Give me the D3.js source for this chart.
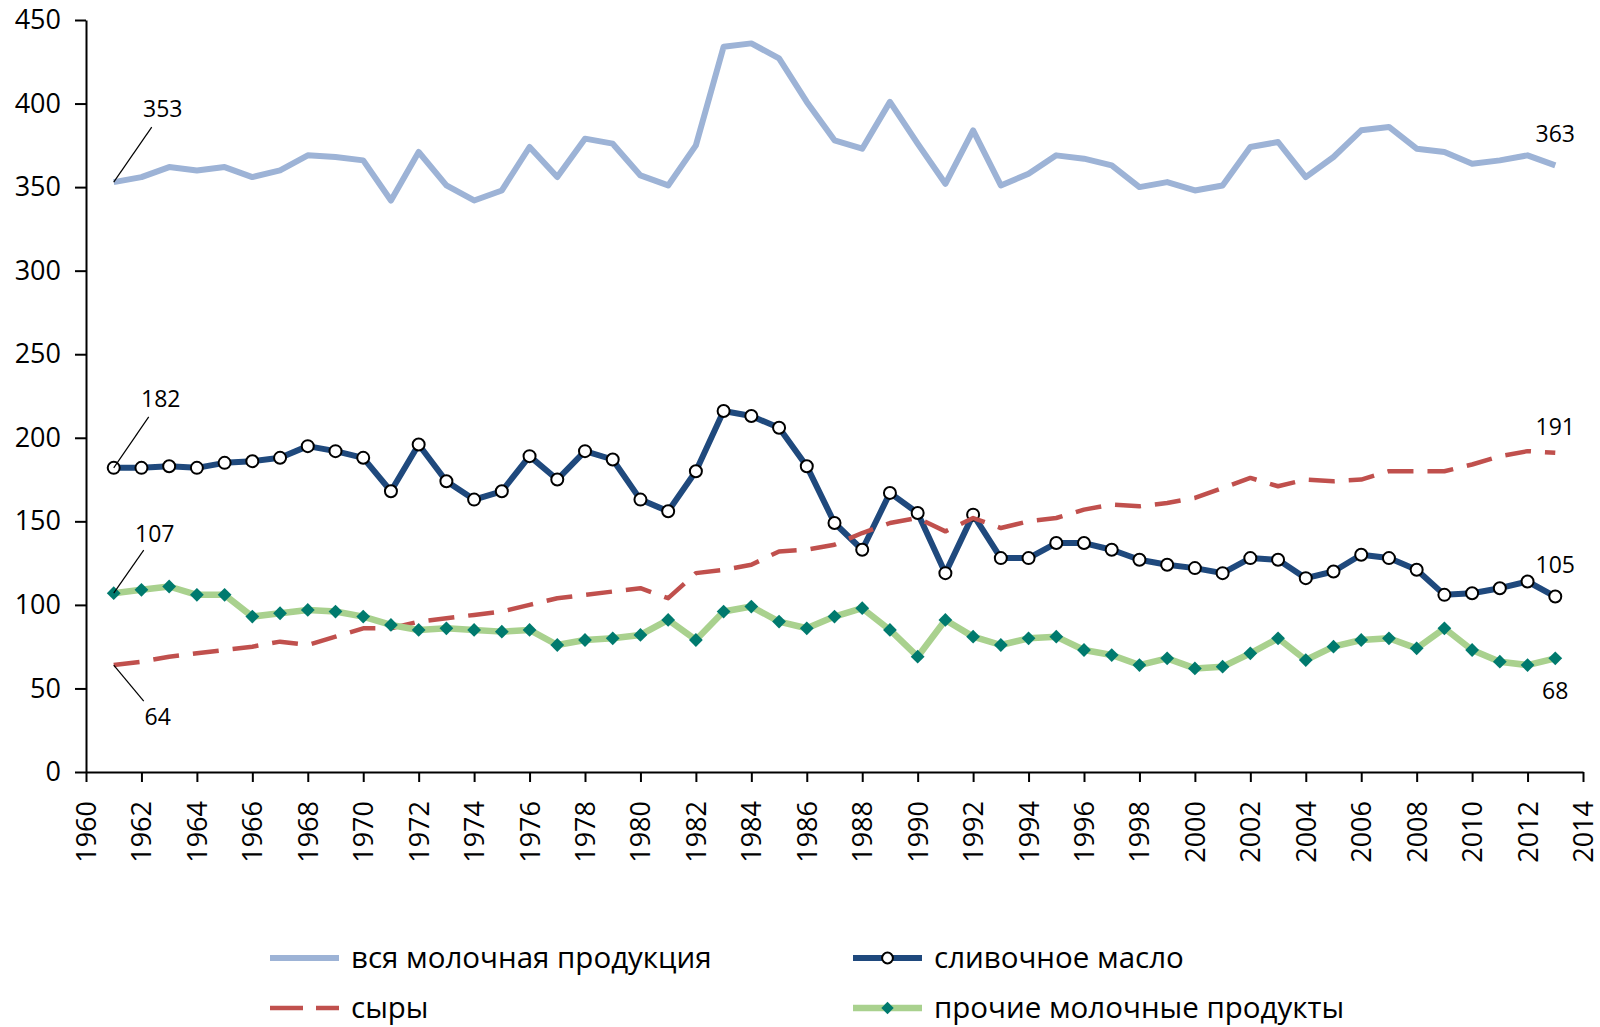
<!DOCTYPE html>
<html>
<head>
<meta charset="utf-8">
<script src="https://cdn.jsdelivr.net/npm/d3@7"></script>
<style>
  body { margin: 0; background: #fff; }
  text { font-family: "Open Sans", sans-serif; fill: #000; }
</style>
</head>
<body>
<svg></svg>
<script>
var years = d3.range(1961, 2014);

var allDairy = [353, 356, 362, 360, 362, 356, 360, 369, 368, 366,
                342, 371, 351, 342, 348, 374, 356, 379, 376, 357,
                351, 375, 434, 436, 427, 401, 378, 373, 401, 376,
                352, 384, 351, 358, 369, 367, 363, 350, 353, 348,
                351, 374, 377, 356, 368, 384, 386, 373, 371, 364,
                366, 369, 363];

var butter = [182, 182, 183, 182, 185, 186, 188, 195, 192, 188,
              168, 196, 174, 163, 168, 189, 175, 192, 187, 163,
              156, 180, 216, 213, 206, 183, 149, 133, 167, 155,
              119, 154, 128, 128, 137, 137, 133, 127, 124, 122,
              119, 128, 127, 116, 120, 130, 128, 121, 106, 107,
              110, 114, 105];

var cheese = [64, 66, 69, 71, 73, 75, 78, 76, 81, 86,
              86, 90, 92, 94, 96, 100, 104, 106, 108, 110,
              104, 119, 121, 124, 132, 133, 136, 143, 149, 152,
              144, 152, 146, 150, 152, 157, 160, 159, 161, 164,
              170, 176, 171, 175, 174, 175, 180, 180, 180, 184,
              189, 192, 191];

var otherDairy = [107, 109, 111, 106, 106, 93, 95, 97, 96, 93,
                  88, 85, 86, 85, 84, 85, 76, 79, 80, 82,
                  91, 79, 96, 99, 90, 86, 93, 98, 85, 69,
                  91, 81, 76, 80, 81, 73, 70, 64, 68, 62,
                  63, 71, 80, 67, 75, 79, 80, 74, 86, 73,
                  66, 64, 68];

var seriesNames = ["вся молочная продукция", "сливочное масло", "сыры", "прочие молочные продукты"];
var yTicks = d3.range(0, 451, 50);
var xTicks = d3.range(1960, 2015, 2);

function drawChart() {
    var width = 1600, height = 1027;
    var plotLeft = 86, plotRight = 1583, plotTop = 20, plotBottom = 772;

    var svg = d3.select("svg")
            .attr("width", width)
            .attr("height", height);

    var x = d3.scaleLinear().domain([1960, 2014]).range([plotLeft, plotRight]);
    var y = d3.scaleLinear().domain([0, 450]).range([plotBottom, plotTop]);

    // axes
    var yAxis = svg.append("g")
            .attr("transform", "translate(" + plotLeft + ",0)")
            .call(d3.axisLeft(y).tickValues(yTicks).tickSize(11).tickPadding(14).tickSizeOuter(0));
    yAxis.selectAll("text").style("font-size", "27px");

    var xAxis = svg.append("g")
            .attr("transform", "translate(0," + plotBottom + ")")
            .call(d3.axisBottom(x).tickValues(xTicks).tickFormat(d3.format("d")).tickSize(10).tickSizeOuter(0));
    xAxis.selectAll("text")
            .attr("transform", "rotate(-90)")
            .attr("x", -29)
            .attr("y", 0)
            .attr("dy", "0.35em")
            .style("text-anchor", "end")
            .style("font-size", "27px");

    svg.selectAll(".domain, .tick line").attr("stroke", "#000").attr("stroke-width", 2);

    function pts(values) {
        return values.map(function (v, i) { return {year: years[i], v: v}; });
    }

    var line = d3.line()
            .x(function (d) { return x(d.year); })
            .y(function (d) { return y(d.v); });

    var series = [
        {name: seriesNames[0], data: pts(allDairy), color: "#9DB3D6", width: 6, dash: null, marker: null},
        {name: seriesNames[1], data: pts(butter), color: "#1F497D", width: 6, dash: null, marker: "circle"},
        {name: seriesNames[2], data: pts(cheese), color: "#C0504D", width: 4.5, dash: "26,14", marker: null},
        {name: seriesNames[3], data: pts(otherDairy), color: "#A9D18E", width: 6.5, dash: null, marker: "diamond"}
    ];

    var diamond = d3.symbol().type(d3.symbolSquare).size(95);

    function drawMarker(g, type, cx, cy, scale) {
        if (type === "circle") {
            g.append("circle")
                .attr("cx", cx).attr("cy", cy).attr("r", 6 * scale)
                .attr("fill", "#fff").attr("stroke", "#000").attr("stroke-width", 2);
        } else if (type === "diamond") {
            g.append("path")
                .attr("d", diamond)
                .attr("transform", "translate(" + cx + "," + cy + ") rotate(45) scale(" + scale + ")")
                .attr("fill", "#007A6E");
        }
    }

    series.forEach(function (s) {
        var g = svg.append("g");
        g.append("path")
            .datum(s.data)
            .attr("d", line)
            .attr("fill", "none")
            .attr("stroke", s.color)
            .attr("stroke-width", s.width)
            .attr("stroke-linejoin", "round")
            .attr("stroke-dasharray", s.dash);
        if (s.marker) {
            s.data.forEach(function (d) { drawMarker(g, s.marker, x(d.year), y(d.v), 1); });
        }
    });

    // data labels: offsets from the point, with optional leader line
    var labels = [
        {values: allDairy, i: 0, dx: 49, dy: -65, leader: [38, -55]},
        {values: butter, i: 0, dx: 47, dy: -61, leader: [35, -51]},
        {values: otherDairy, i: 0, dx: 41, dy: -51, leader: [30, -43]},
        {values: cheese, i: 0, dx: 44, dy: 60, leader: [30, 36]},
        {values: allDairy, i: 52, dx: 0, dy: -23, leader: null},
        {values: cheese, i: 52, dx: 0, dy: -18, leader: null},
        {values: butter, i: 52, dx: 0, dy: -24, leader: null},
        {values: otherDairy, i: 52, dx: 0, dy: 41, leader: null}
    ];

    labels.forEach(function (l) {
        var px = x(years[l.i]), py = y(l.values[l.i]);
        if (l.leader) {
            svg.append("line")
                .attr("x1", px).attr("y1", py)
                .attr("x2", px + l.leader[0]).attr("y2", py + l.leader[1])
                .attr("stroke", "#000").attr("stroke-width", 1.2);
        }
        svg.append("text")
            .attr("x", px + l.dx)
            .attr("y", py + l.dy)
            .attr("text-anchor", "middle")
            .style("font-size", "23px")
            .text(l.values[l.i]);
    });

    // legend
    var legendPos = [[270, 958], [853, 958], [270, 1008], [853, 1008]];
    series.forEach(function (s, i) {
        var lx = legendPos[i][0], ly = legendPos[i][1];
        var g = svg.append("g");
        g.append("line")
            .attr("x1", lx).attr("x2", lx + 69)
            .attr("y1", ly).attr("y2", ly)
            .attr("stroke", s.color)
            .attr("stroke-width", s.width)
            .attr("stroke-dasharray", s.dash ? "33,13" : null);
        if (s.marker) drawMarker(g, s.marker, lx + 34.5, ly, 0.9);
        g.append("text")
            .attr("x", lx + 81)
            .attr("y", ly)
            .attr("dy", "0.35em")
            .style("font-size", "29.5px")
            .text(s.name);
    });
}

drawChart();
</script>
</body>
</html>
